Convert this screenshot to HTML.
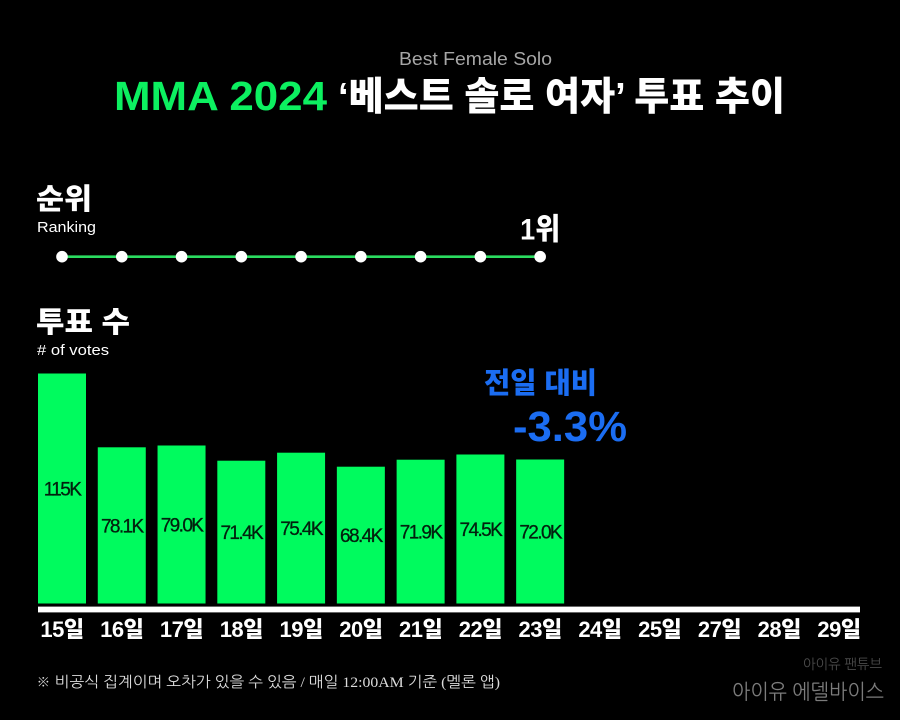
<!DOCTYPE html>
<html lang="ko">
<head>
<meta charset="utf-8">
<title>MMA 2024 베스트 솔로 여자 투표 추이</title>
<style>
html,body{margin:0;padding:0;background:#000;width:900px;height:720px;overflow:hidden}
svg{display:block}
text{font-family:"Liberation Sans","Noto Sans CJK KR",sans-serif}
.kr{font-family:"Liberation Sans","Noto Sans CJK KR",sans-serif;font-weight:900;fill:#fff}
</style>
</head>
<body>
<svg id="chart" width="900" height="720" viewBox="0 0 900 720" xmlns="http://www.w3.org/2000/svg">
  <rect width="900" height="720" fill="#000"/>
  <text x="399" y="65" font-size="18" fill="#a6a6a6" textLength="153" lengthAdjust="spacingAndGlyphs">Best Female Solo</text>
  <text class="kr" x="114" y="110" font-size="41" style="fill:#0cf060" textLength="213" lengthAdjust="spacingAndGlyphs">MMA 2024</text>
  <text class="kr" x="338" y="110" font-size="39" textLength="447" lengthAdjust="spacingAndGlyphs">‘베스트 솔로 여자’ 투표 추이</text>

  <text class="kr" x="36" y="209" font-size="29" textLength="56" lengthAdjust="spacingAndGlyphs">순위</text>
  <text x="37" y="232" font-size="15" fill="#fff" textLength="59" lengthAdjust="spacingAndGlyphs">Ranking</text>

  <text class="kr" x="36" y="332" font-size="29" textLength="94" lengthAdjust="spacingAndGlyphs">투표 수</text>
  <text x="37" y="355" font-size="15" fill="#fff" textLength="72" lengthAdjust="spacingAndGlyphs"># of votes</text>

  <g id="rank-layer"></g>
  <g id="bar-layer"></g>

  <rect x="38" y="606.6" width="822" height="5.8" fill="#fff"/>
  <g id="tick-layer"></g>

  <text class="kr" x="484" y="393" font-size="29" style="fill:#1b6df2" textLength="113" lengthAdjust="spacingAndGlyphs">전일 대비</text>
  <text class="kr" x="513" y="441" font-size="43" style="fill:#1b6df2" textLength="114" lengthAdjust="spacingAndGlyphs">-3.3%</text>

  <text x="36" y="687" font-size="15" fill="#dcdcdc" style="font-family:'Liberation Serif','NanumGothic',serif" textLength="464" lengthAdjust="spacingAndGlyphs">※ 비공식 집계이며 오차가 있을 수 있음 / 매일 12:00AM 기준 (멜론 앱)</text>
  <text x="803" y="669" font-size="14" fill="#4c4c4c" style="font-family:'NanumGothic','Noto Sans CJK KR',sans-serif" textLength="79" lengthAdjust="spacingAndGlyphs">아이유 팬튜브</text>
  <text x="732" y="699" font-size="21" fill="#7c7c7c" style="font-family:'NanumGothic','Noto Sans CJK KR',sans-serif" textLength="152" lengthAdjust="spacingAndGlyphs">아이유 에델바이스</text>
</svg>
<script>
const categories = ["15일","16일","17일","18일","19일","20일","21일","22일","23일","24일","25일","27일","28일","29일"];
const votes = [115, 78.1, 79.0, 71.4, 75.4, 68.4, 71.9, 74.5, 72.0, null, null, null, null, null];
const voteLabels = ["115K","78.1K","79.0K","71.4K","75.4K","68.4K","71.9K","74.5K","72.0K"];
const ranks = [1, 1, 1, 1, 1, 1, 1, 1, 1, null, null, null, null, null];
const rankLabel = "1위";

const NS = "http://www.w3.org/2000/svg";
const first = 62, step = 59.77, barW = 48, base = 603.5, pxPerK = 2, rankY1 = 256.7, rankStep = 12;
const xScale = i => first + step * i;
const yVotes = v => base - v * pxPerK;
const yRank = r => rankY1 + (r - 1) * rankStep;
function make(tag, parent, attrs) {
  const el = document.createElementNS(NS, tag);
  for (const k in attrs) el.setAttribute(k, attrs[k]);
  parent.appendChild(el);
  return el;
}
const barLayer = document.getElementById("bar-layer");
const rankLayer = document.getElementById("rank-layer");
const tickLayer = document.getElementById("tick-layer");

votes.forEach((v, i) => {
  if (v === null) return;
  const top = yVotes(v);
  const bar = make("rect", barLayer, {x: xScale(i) - barW / 2, y: top, width: barW, height: base - top, fill: "#00fb5e"});
  
  
  const label = make("text", barLayer, {x: xScale(i), y: (top + base) / 2 + 7, "font-size": 19, "text-anchor": "middle", fill: "#02200e", stroke: "#02200e", "stroke-width": 0.3, "letter-spacing": "-1.6"});
  
  
  label.textContent = voteLabels[i];
});

let d = "", lastI = -1;
ranks.forEach((r, i) => {
  if (r === null) return;
  d += (d ? "L" : "M") + xScale(i) + " " + yRank(r);
  lastI = i;
});
const rankLine = make("path", rankLayer, {d: d, fill: "none", stroke: "#2bdc60", "stroke-width": 2.6});


ranks.forEach((r, i) => {
  if (r === null) return;
  const dot = make("circle", rankLayer, {cx: xScale(i), cy: yRank(r), r: 5.8, fill: "#fff"});
  
  
});
const rankText = make("text", rankLayer, {x: xScale(lastI), y: yRank(ranks[lastI]) - 17, "font-size": 30, "text-anchor": "middle", class: "kr", textLength: 40, lengthAdjust: "spacingAndGlyphs"});


rankText.textContent = rankLabel;

categories.forEach((c, i) => {
  const t = make("text", tickLayer, {x: xScale(i), y: 637, "font-size": 22, "text-anchor": "middle", class: "kr", "letter-spacing": "-0.5"});
  
  
  t.textContent = c;
});
</script>
</body>
</html>
